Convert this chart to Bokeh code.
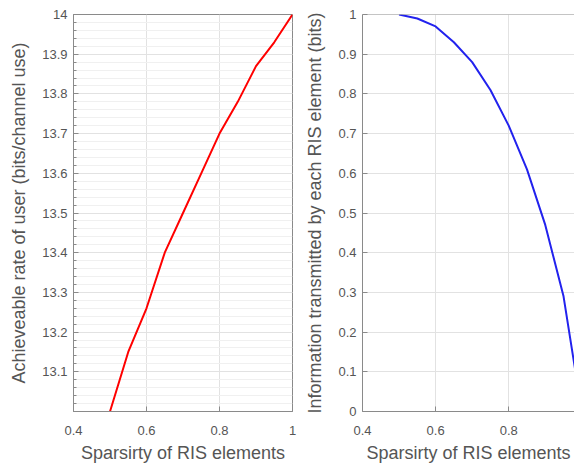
from bokeh.plotting import figure
from bokeh.layouts import row
from bokeh.models import FixedTicker, Range1d, Span
from bokeh.embed import file_html
from bokeh.resources import INLINE
import numpy as np

# ---- data ----
sparsity_rate = [0.5, 0.55, 0.6, 0.65, 0.7, 0.75, 0.8, 0.85, 0.9, 0.95, 1.0]
rate = [13.0, 13.15, 13.26, 13.40, 13.50, 13.60, 13.70, 13.78, 13.87, 13.93, 14.0]

sparsity_info = [0.5, 0.55, 0.6, 0.65, 0.7, 0.75, 0.8, 0.85, 0.9, 0.95, 1.0]
info = [1.0, 0.99, 0.97, 0.93, 0.88, 0.81, 0.72, 0.61, 0.47, 0.29, 0.0]

x_ticks = [0.4, 0.6, 0.8, 1.0]
rate_ticks = [13.1, 13.2, 13.3, 13.4, 13.5, 13.6, 13.7, 13.8, 13.9, 14.0]
info_ticks = [0.0, 0.1, 0.2, 0.3, 0.4, 0.5, 0.6, 0.7, 0.8, 0.9, 1.0]

x_label = "Sparsirty of RIS elements"
rate_label = "Achieveable rate of user (bits/channel use)"
info_label = "Information transmitted by each RIS element (bits)"

FONT = "Liberation Sans"
AX = "#8a8a8a"
TXT = "#555555"
GRID = "#e2e2e2"
MINOR_GRID = "#f0f0f0"

rate_minor = [round(v, 3) for v in np.arange(13.0, 14.0001, 0.02)]


def style_axis(ax):
    ax.axis_line_color = AX
    ax.major_tick_line_color = AX
    ax.minor_tick_line_color = AX
    ax.major_tick_in = 5
    ax.major_tick_out = 0
    ax.minor_tick_in = 3
    ax.minor_tick_out = 0
    ax.major_label_text_font = FONT
    ax.major_label_text_font_size = "13px"
    ax.major_label_text_color = TXT
    ax.axis_label_text_font = FONT
    ax.axis_label_text_font_size = "18px"
    ax.axis_label_text_font_style = "normal"
    ax.axis_label_text_color = TXT


def make_fig(x_end, frame_w, border_left, border_right):
    p = figure(frame_width=frame_w, frame_height=397,
               x_range=Range1d(0.4, x_end),
               output_backend="svg", toolbar_location=None,
               min_border_left=border_left, min_border_right=border_right,
               min_border_top=14, min_border_bottom=50)
    p.background_fill_color = "white"
    p.border_fill_color = "white"
    return p


# ---------------- left plot ----------------
p1 = make_fig(1.0, 219, 73, 5)
p1.y_range = Range1d(13.0, 14.0)
p1.outline_line_color = AX

p1.line(sparsity_rate, rate, line_color="#ff0000", line_width=2)

p1.xaxis.ticker = FixedTicker(ticks=x_ticks)
p1.yaxis.ticker = FixedTicker(ticks=rate_ticks, minor_ticks=rate_minor)
p1.xaxis.axis_label = x_label
p1.yaxis.axis_label = rate_label
for ax in p1.xaxis + p1.yaxis:
    style_axis(ax)
p1.xaxis.minor_tick_in = 0
p1.xaxis.major_label_overrides = {1.0: "1"}
p1.yaxis.major_label_overrides = {14.0: "14"}

p1.xgrid.ticker = FixedTicker(ticks=x_ticks)
p1.ygrid.ticker = FixedTicker(ticks=rate_ticks, minor_ticks=rate_minor)
p1.xgrid.grid_line_color = GRID
p1.ygrid.grid_line_color = GRID
p1.ygrid.minor_grid_line_color = MINOR_GRID

# ---------------- right plot ----------------
p2 = make_fig(0.98, 212, 65, 0)
p2.y_range = Range1d(0.0, 1.0)
p2.outline_line_color = None
p2.add_layout(Span(location=1.0, dimension="width", line_color=AX, line_width=1))

p2.line(sparsity_info, info, line_color="#2222ee", line_width=2)

p2.xaxis.ticker = FixedTicker(ticks=x_ticks)
p2.yaxis.ticker = FixedTicker(ticks=info_ticks)
p2.xaxis.axis_label = x_label
p2.yaxis.axis_label = info_label
for ax in p2.xaxis + p2.yaxis:
    style_axis(ax)
p2.xaxis.minor_tick_in = 0
p2.yaxis.minor_tick_in = 0
p2.xaxis.major_label_overrides = {1.0: "1"}
p2.yaxis.major_label_overrides = {0.0: "0", 1.0: "1"}

p2.xgrid.ticker = FixedTicker(ticks=x_ticks)
p2.ygrid.ticker = FixedTicker(ticks=info_ticks)
p2.xgrid.grid_line_color = GRID
p2.ygrid.grid_line_color = GRID

for p in (p1, p2):
    p.xaxis.major_label_standoff = 14
    p.xaxis.axis_label_standoff = 5
    p.yaxis.major_label_standoff = 6
    p.yaxis.axis_label_standoff = 10

layout = row(p1, p2)
open("out.html", "w").write(file_html(layout, INLINE))
